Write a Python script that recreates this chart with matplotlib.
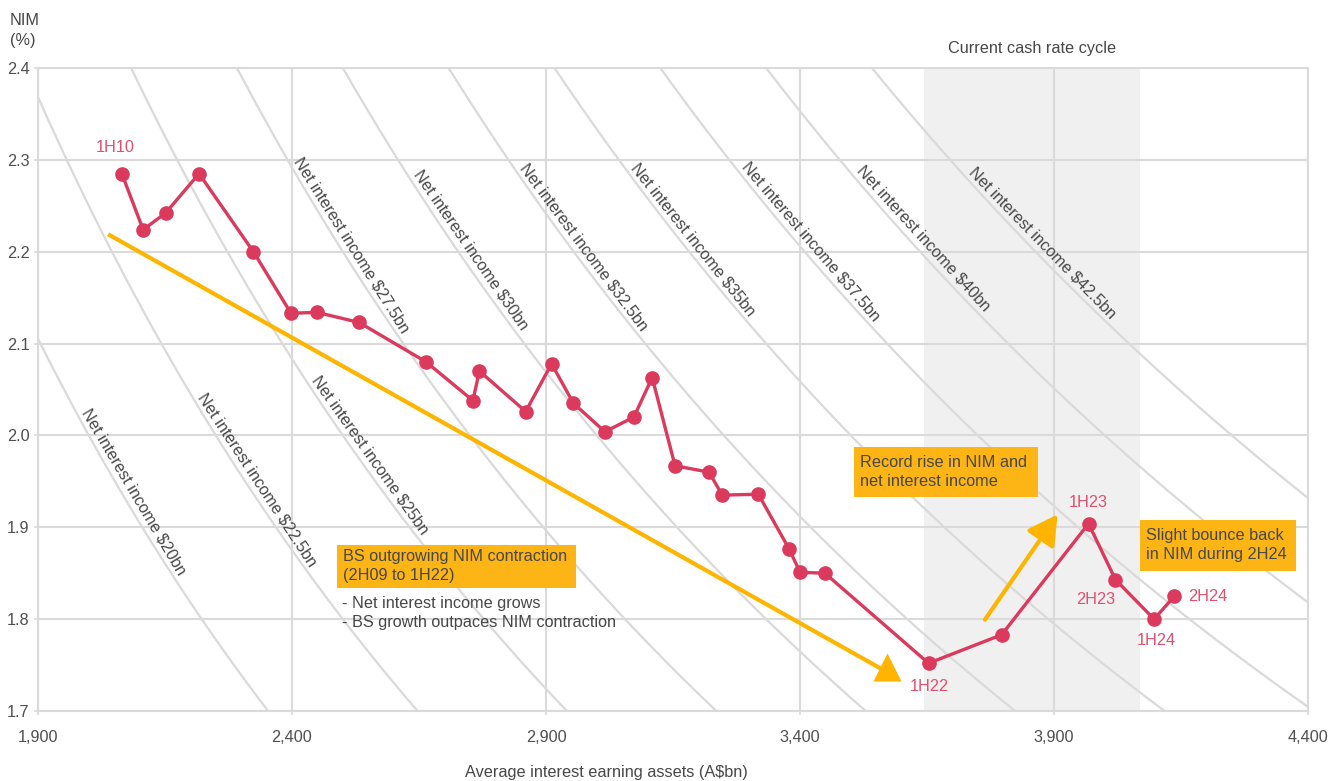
import numpy as np
import matplotlib
matplotlib.use("Agg")
import matplotlib.pyplot as plt

plt.rcParams['font.family'] = ['Liberation Sans', 'DejaVu Sans']
plt.rcParams['font.size'] = 11.7

# half-year NIM vs average interest earning assets, 1H10 .. 2H24
periods = ['1H10', '2H10', '1H11', '2H11', '1H12', '2H12', '1H13', '2H13', '1H14', '2H14',
           '1H15', '2H15', '1H16', '2H16', '1H17', '2H17', '1H18', '2H18', '1H19', '2H19',
           '1H20', '2H20', '1H21', '2H21', '1H22', '2H22', '1H23', '2H23', '1H24', '2H24']
assets = [2065, 2107, 2151, 2217, 2324, 2398, 2449, 2532, 2664, 2756,
          2769, 2860, 2911, 2954, 3016, 3073, 3109, 3154, 3221, 3247,
          3318, 3379, 3400, 3449, 3653, 3797, 3968, 4021, 4097, 4137]
nim = [2.285, 2.224, 2.242, 2.285, 2.200, 2.133, 2.134, 2.123, 2.080, 2.038,
       2.070, 2.026, 2.078, 2.035, 2.004, 2.020, 2.063, 1.967, 1.960, 1.935,
       1.936, 1.876, 1.851, 1.850, 1.752, 1.783, 1.904, 1.843, 1.800, 1.825]

# iso net-interest-income curves (A$bn) and the NIM level where each label sits
nii_levels = [20, 22.5, 25, 27.5, 30, 32.5, 35, 37.5, 40, 42.5]
nii_label_y = [1.932, 1.945, 1.972, 2.201, 2.195, 2.198, 2.206, 2.203, 2.206, 2.201]

# labelled points: name, offset in pixels, alignment
point_labels = {
    '1H10': (-7, 26, 'center'),
    '1H22': (1, -23, 'center'),
    '1H23': (0, 21, 'center'),
    '2H23': (-20, -20, 'center'),
    '1H24': (2, -21, 'center'),
    '2H24': (14, 0, 'left'),
}

cycle_start, cycle_end = 3644, 4069

x_ticks = [1900, 2400, 2900, 3400, 3900, 4400]
y_ticks = [1.7, 1.8, 1.9, 2.0, 2.1, 2.2, 2.3, 2.4]

RED = '#db3a5c'
RED_TXT = '#e2506e'
GOLD = '#ffb500'
BOX = '#fdb515'
GRID = '#dadada'
TXT = '#474747'

fig = plt.figure(figsize=(13.38, 7.81), dpi=100)
ax = fig.add_axes([38 / 1338, 1 - 711 / 781, (1308 - 38) / 1338, (711 - 68) / 781])
ax.set_xlim(1900, 4400)
ax.set_ylim(1.7, 2.4)

ax.axvspan(cycle_start, cycle_end, color='#f0f0f0', lw=0, zorder=0)
ax.text((cycle_start + cycle_end) / 2, 1.03, 'Current cash rate cycle',
        transform=ax.get_xaxis_transform(), ha='center', va='center', color=TXT)

ax.set_xticks(x_ticks)
ax.set_xticklabels([f'{v:,}' for v in x_ticks])
ax.set_yticks(y_ticks)
ax.set_yticklabels([f'{v:.1f}' for v in y_ticks])
ax.grid(True, color=GRID, lw=1.5)
ax.set_axisbelow(True)
for s in ax.spines.values():
    s.set_color(GRID)
    s.set_linewidth(1.5)
ax.tick_params(axis='both', colors=GRID, labelcolor='#4f4f4f', length=3, width=1.2)
ax.tick_params(axis='x', pad=11)
ax.tick_params(axis='y', pad=3)

# iso NII curves: NIM(%) = 200 * NII / assets
xs = np.linspace(1900, 4400, 600)
for lvl, ly in zip(nii_levels, nii_label_y):
    ax.plot(xs, 200 * lvl / xs, color=GRID, lw=1.6, zorder=1)
    lx = 200 * lvl / ly
    p0 = ax.transData.transform((lx - 5, 200 * lvl / (lx - 5)))
    p1 = ax.transData.transform((lx + 5, 200 * lvl / (lx + 5)))
    dx, dy = p1 - p0
    ang = np.degrees(np.arctan2(dy, dx))
    n = np.array([-dy, dx]) / np.hypot(dx, dy)
    lbl = f'Net interest income ${lvl:g}bn'
    ax.annotate(lbl, (lx, ly), xytext=(11 * n[0], 11 * n[1]), textcoords='offset pixels',
                rotation=ang, rotation_mode='anchor', ha='center', va='center',
                color=TXT, zorder=2)

# trend arrows
ax.plot([2038, 3563], [2.219, 1.745], color=GOLD, lw=3, solid_capstyle='butt', zorder=3)
ax.plot([3571.5], [1.7477], marker='^', ms=20, color=GOLD, mec='none', zorder=3)
ax.annotate('', xy=(3907, 1.914), xytext=(3764, 1.7994),
            arrowprops=dict(arrowstyle='-|>,head_length=18,head_width=10', mutation_scale=1,
                            color=GOLD, lw=3, shrinkA=0, shrinkB=0), zorder=3)

# NIM series
ax.plot(assets, nim, color=RED, lw=2.4, marker='o', ms=9.5, zorder=5)
for name, (ox, oy, ha) in point_labels.items():
    i = periods.index(name)
    ax.annotate(name, (assets[i], nim[i]), xytext=(ox, oy), textcoords='offset pixels',
                ha=ha, va='center', color=RED_TXT, zorder=6)

# callout boxes
def callout(x0, x1, y0, y1, text):
    ax.add_patch(plt.Rectangle((x0, y0), x1 - x0, y1 - y0, color=BOX, lw=0, zorder=4))
    ax.text(x0 + 12, (y0 + y1) / 2, text, ha='left', va='center', color=TXT,
            linespacing=1.35, zorder=4)

callout(2488.6, 2959, 1.834, 1.881, 'BS outgrowing NIM contraction\n(2H09 to 1H22)')
callout(3506, 3868.5, 1.9332, 1.9876, 'Record rise in NIM and\nnet interest income')
callout(4069, 4376, 1.8527, 1.9082, 'Slight bounce back\nin NIM during 2H24')
ax.text(2498, 1.8255, '- Net interest income grows\n- BS growth outpaces NIM contraction',
        ha='left', va='top', color=TXT, linespacing=1.35, zorder=4)

fig.text(10 / 1338, 1 - 13 / 781, 'NIM\n(%)', ha='left', va='top', color=TXT, linespacing=1.4)
fig.text(606 / 1338, 1 - 772 / 781, 'Average interest earning assets (A$bn)',
         ha='center', va='center', color=TXT)

fig.savefig('out.png', dpi=100)
